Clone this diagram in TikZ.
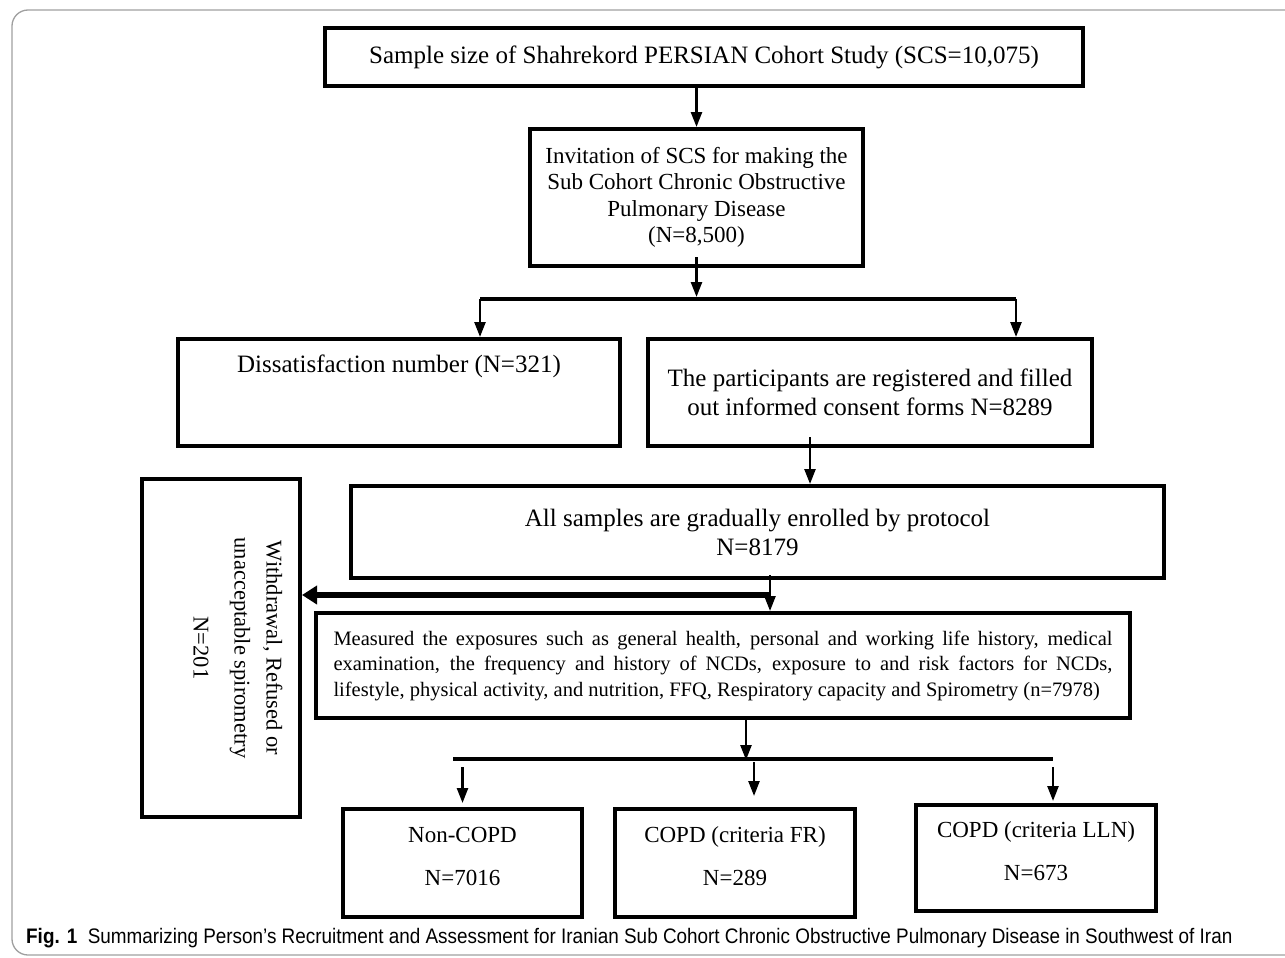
\documentclass[tikz,border=0pt]{standalone}
\usepackage{fontspec}
\setmainfont{Liberation Serif}
\newfontfamily\capfont[FakeStretch=0.9]{Liberation Sans}
\usetikzlibrary{arrows.meta}
\begin{document}
\begin{tikzpicture}[x=1pt,y=-1pt,
 box/.style={draw,line width=4pt,align=center,inner sep=0pt,font=\fontsize{25}{29}\selectfont},
 endbox/.style={box,minimum width=240pt,text depth=13pt,font=\fontsize{23}{29}\selectfont},
 arr/.style={line width=2.5pt,-{Triangle[length=15pt,width=11pt]}},
 fatarr/.style={line width=6pt,-{Triangle[length=15pt,width=18pt]}},
 bar/.style={line width=4.5pt}]
 \useasboundingbox (0,0) rectangle (1285,958);
 \begin{scope}
 \clip (0,0) rectangle (1285,958);
 \draw[gray!75,line width=1.3pt,rounded corners=16pt](1310,10)--(12,10)--(12,955)--(1310,955);
 \end{scope}
 \node[box,minimum width=758pt,minimum height=58pt] (size) at (704,57) {Sample size of Shahrekord PERSIAN Cohort Study (SCS=10,075)};
 \node[box,minimum width=333pt,minimum height=137pt,font=\fontsize{23}{26.5}\selectfont] (invite) at (696.5,197.5) {Invitation of SCS for making the\\Sub Cohort Chronic Obstructive\\Pulmonary Disease\\(N=8,500)};
 \node[box,minimum width=442pt,minimum height=107pt] (dis) at (399,392.5) {Dissatisfaction number (N=321)\\\mbox{}\\\mbox{}};
 \node[box,minimum width=444pt,minimum height=107pt] (part) at (870,392.5) {The participants are registered and filled\\out informed consent forms N=8289};
 \node[box,minimum width=813pt,minimum height=92pt] (all) at (757.5,532) {All samples are gradually enrolled by protocol\\N=8179};
 \node[box,minimum width=158pt,minimum height=338pt] (wd) at (221,648) {};
 \node[rotate=-90,align=center,font=\fontsize{22.5}{32}\selectfont] (wdtext) at (238,648) {Withdrawal, Refused or\\unacceptable spirometry\\[9pt]N=201};
 \node[box,minimum width=814pt,minimum height=105pt,align=justify,text width=779pt,font=\fontsize{20.5}{25.5}\selectfont] (meas) at (723,665.5) {Measured the exposures such as general health, personal and working life history, medical\linebreak examination, the frequency and history of NCDs, exposure to and risk factors for NCDs,\linebreak lifestyle, physical activity, and nutrition, FFQ, Respiratory capacity and Spirometry (n=7978)};
 \node[endbox,minimum width=239pt,minimum height=108pt] (non) at (462.5,863) {Non-COPD\\[14pt]N=7016};
 \node[endbox,minimum height=108pt] (fr) at (735,863) {COPD (criteria FR)\\[14pt]N=289};
 \node[endbox,minimum height=106pt] (lln) at (1036,858) {COPD (criteria LLN)\\[14pt]N=673};
 \coordinate (barA) at (480,299);
 \coordinate (barB) at (1016,299);
 \coordinate (split) at (770,595);
 \coordinate (barC) at (453,759);
 \coordinate (barD) at (1053,759);
 \coordinate (tapB) at (754,762);
 \draw[arr](size.south -| invite)--(invite.north);
 \draw[bar](barA)--(barB);
 \draw[arr]([yshift=11pt]invite.south)--([yshift=2pt]invite.south |- barA);
 \draw[arr](barA)--(barA |- dis.north);
 \draw[arr](barB)--(barB |- part.north);
 \draw[arr]([xshift=-60pt,yshift=11pt]part.south)--([xshift=-60pt]part.south |- all.north);
 \draw[arr]([yshift=5pt]all.south -| split)--(split |- meas.north);
 \draw[fatarr](split)--(split -| wd.east);
 \draw[bar](barC)--(barD);
 \draw[arr]([xshift=23pt]meas.south)--([xshift=23pt,yshift=-1pt]meas.south |- barC);
 \draw[arr]([yshift=-8pt]barC -| non)--([yshift=4pt]non.north);
 \draw[arr](tapB)--([yshift=11pt]tapB |- fr.north);
 \draw[arr]([yshift=-8pt]barD)--([yshift=2pt]barD |- lln.north);
 \node[anchor=base west,inner sep=0pt,font=\capfont\fontsize{21}{24}\selectfont] (cap) at (26,943) {\textbf{Fig. 1}\enspace Summarizing Person’s Recruitment and Assessment for Iranian Sub Cohort Chronic Obstructive Pulmonary Disease in Southwest of Iran};
\end{tikzpicture}
\end{document}
